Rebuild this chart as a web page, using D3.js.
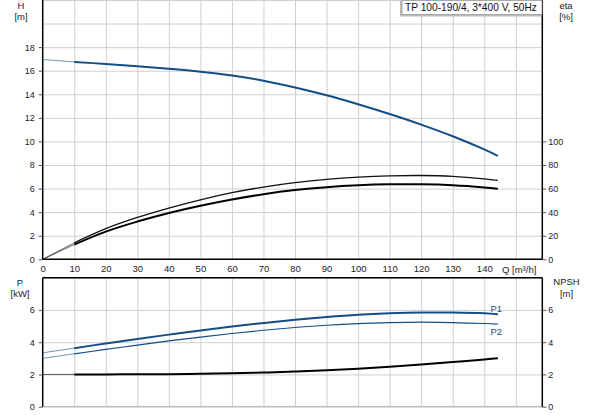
<!DOCTYPE html>
<html>
<head>
<meta charset="utf-8">
<script src="https://cdn.jsdelivr.net/npm/d3@7"></script>
<style>
  body { margin: 0; background: #fff; }
  svg { display: block; font-family: "Liberation Sans", Arial, sans-serif; }
  .tick text { fill: #222; font-size: 9px; }
  .grid line { stroke: #cfcfcf; stroke-width: 1; }
  .grid path { display: none; }
</style>
</head>
<body>
<svg id="chart" width="593" height="415"></svg>
<script>
// flow points [m3/h]
var flow = [0, 10, 20, 30, 40, 50, 60, 70, 80, 90, 100, 110, 120, 130, 140, 144.3];
// head [m]
var head = [16.95, 16.75, 16.57, 16.38, 16.17, 15.92, 15.6, 15.15, 14.58, 13.92, 13.16, 12.33, 11.43, 10.44, 9.32, 8.77];
// efficiencies [%]
var etaUpper = [0, 14, 26, 35.5, 43.5, 50.5, 56.5, 61.3, 65, 67.8, 69.7, 70.8, 71.1, 70.4, 68.3, 67];
var etaLower = [0, 12.5, 23.5, 32, 39.3, 45.5, 50.8, 55.2, 58.7, 61.2, 62.8, 63.6, 63.6, 62.8, 61, 59.9];
// power [kW]
var p1 = [3.34, 3.63, 3.92, 4.2, 4.47, 4.73, 4.97, 5.19, 5.39, 5.56, 5.7, 5.79, 5.84, 5.84, 5.79, 5.73];
var p2 = [3.0, 3.28, 3.55, 3.82, 4.08, 4.32, 4.54, 4.74, 4.91, 5.05, 5.15, 5.21, 5.24, 5.22, 5.16, 5.12];
// npsh [m]
var npsh = [2.0, 2.0, 2.0, 2.01, 2.02, 2.04, 2.07, 2.12, 2.18, 2.26, 2.36, 2.48, 2.62, 2.77, 2.93, 3.01];

var qTicks = [0, 10, 20, 30, 40, 50, 60, 70, 80, 90, 100, 110, 120, 130, 140];
var hTicks = [0, 2, 4, 6, 8, 10, 12, 14, 16, 18];
var etaTicks = [0, 20, 40, 60, 80, 100];
var pTicks = [0, 2, 4, 6];
var npshTicks = [0, 2, 4, 6];
var title = "TP 100-190/4, 3*400 V, 50Hz";

var blue = "#134d85";
var svg = d3.select("#chart");

var left = 42.7, right = 542.3;
var x = d3.scaleLinear().domain([0, 158.4]).range([left, right]);

// top chart
var topY0 = 259.3, topY1 = 0;
var yH = d3.scaleLinear().domain([0, 22]).range([topY0, topY1]);
var yEta = d3.scaleLinear().domain([0, 220]).range([topY0, topY1]);

// bottom chart
var botY0 = 406.7, botY1 = 277.7;
var yP = d3.scaleLinear().domain([0, 8]).range([botY0, botY1]);
var yN = d3.scaleLinear().domain([0, 8]).range([botY0, botY1]);

function grid(y0, y1, ys, yTickVals) {
  // vertical gridlines
  svg.append("g").attr("class", "grid")
    .attr("transform", "translate(0," + y0 + ")")
    .call(d3.axisBottom(x).tickValues(d3.range(10, 160, 10)).tickSize(-(y0 - y1)).tickFormat(""));
  // horizontal gridlines
  svg.append("g").attr("class", "grid")
    .attr("transform", "translate(" + left + ",0)")
    .call(d3.axisLeft(ys).tickValues(yTickVals).tickSize(-(right - left)).tickFormat(""));
}

grid(topY0, topY1, yH, d3.range(2, 23, 2));
grid(botY0, botY1, yP, [2, 4, 6, 8]);

// bottom chart bottom border is grey
svg.append("line").attr("x1", left).attr("x2", right)
  .attr("y1", botY0).attr("y2", botY0).attr("stroke", "#bdbdbd").attr("stroke-width", 1.5);

function styleAxis(g) {
  g.select(".domain").remove();
  g.selectAll(".tick line").attr("stroke", "#555");
}

// top left axis
svg.append("g").attr("transform", "translate(" + left + ",0)")
  .call(d3.axisLeft(yH).tickValues(hTicks).tickSize(4).tickPadding(4))
  .call(styleAxis);
// top right axis
svg.append("g").attr("transform", "translate(" + right + ",0)")
  .call(d3.axisRight(yEta).tickValues(etaTicks).tickSize(4).tickPadding(2))
  .call(styleAxis);
// x labels
svg.append("g").attr("transform", "translate(0," + topY0 + ")")
  .call(d3.axisBottom(x).tickValues(qTicks).tickSize(0).tickPadding(6))
  .call(styleAxis)
  .selectAll("text").style("font-size", "9.5px");

// bottom axes
svg.append("g").attr("transform", "translate(" + left + ",0)")
  .call(d3.axisLeft(yP).tickValues(pTicks).tickSize(4).tickPadding(4))
  .call(styleAxis);
svg.append("g").attr("transform", "translate(" + right + ",0)")
  .call(d3.axisRight(yN).tickValues(npshTicks).tickSize(4).tickPadding(2))
  .call(styleAxis);

// frame lines
var frame = svg.append("g").attr("stroke", "#000").attr("stroke-width", 1.5);
frame.append("line").attr("x1", left).attr("x2", left).attr("y1", topY1).attr("y2", topY0);
frame.append("line").attr("x1", right).attr("x2", right).attr("y1", topY1).attr("y2", topY0);
frame.append("line").attr("x1", left).attr("x2", right).attr("y1", topY0).attr("y2", topY0);
frame.append("line").attr("x1", left).attr("x2", left).attr("y1", botY1).attr("y2", botY0);
frame.append("line").attr("x1", right).attr("x2", right).attr("y1", botY1).attr("y2", botY0);
frame.append("line").attr("x1", left).attr("x2", right).attr("y1", botY1).attr("y2", botY1);

// curves: thin part below 10 m3/h, full weight from 10 on
function curve(vals, ys, color, w) {
  var pts = flow.map(function (q, i) { return [q, vals[i]]; });
  var line = d3.line()
    .x(function (d) { return x(d[0]); })
    .y(function (d) { return ys(d[1]); })
    .curve(d3.curveCatmullRom.alpha(0.5));
  svg.append("path").datum(pts.slice(0, 2))
    .attr("d", line).attr("fill", "none")
    .attr("stroke", color).attr("stroke-opacity", 0.6).attr("stroke-width", 1);
  svg.append("path").datum(pts.slice(1))
    .attr("d", line).attr("fill", "none")
    .attr("stroke", color).attr("stroke-width", w).attr("stroke-linecap", "butt");
}

curve(head, yH, blue, 2);
curve(etaUpper, yEta, "#111", 1.3);
curve(etaLower, yEta, "#000", 2);
curve(p1, yP, blue, 2);
curve(p2, yP, blue, 1.2);
curve(npsh, yN, "#000", 2);

// axis titles
function label(txt, cx, by, anchor, size) {
  svg.append("text").attr("x", cx).attr("y", by)
    .attr("text-anchor", anchor || "middle")
    .style("font-size", (size || 9.5) + "px").attr("fill", "#222").text(txt);
}
label("H", 21, 9);
label("[m]", 21, 20);
label("eta", 566, 9);
label("[%]", 566, 20);
label("Q [m³/h]", 502, 273, "start");
label("P", 20, 286);
label("[kW]", 20, 297);
label("NPSH", 566.5, 285);
label("[m]", 566.5, 297);

svg.append("text").attr("x", 490.5).attr("y", 312.3)
  .style("font-size", "9.5px").attr("fill", "#2a4f7a").text("P1");
svg.append("text").attr("x", 490.5).attr("y", 335)
  .style("font-size", "9.5px").attr("fill", "#2a4f7a").text("P2");

// legend box
svg.append("rect").attr("x", 400).attr("y", 1).attr("width", 141).attr("height", 15.5)
  .attr("fill", "#bbb");
svg.append("rect").attr("x", 402).attr("y", 0.5).attr("width", 140).attr("height", 14)
  .attr("fill", "#fff").attr("stroke", "#999").attr("stroke-width", 0.8);
svg.append("text").attr("x", 405).attr("y", 11)
  .style("font-size", "10.2px").attr("fill", "#111").text(title);
</script>
</body>
</html>
